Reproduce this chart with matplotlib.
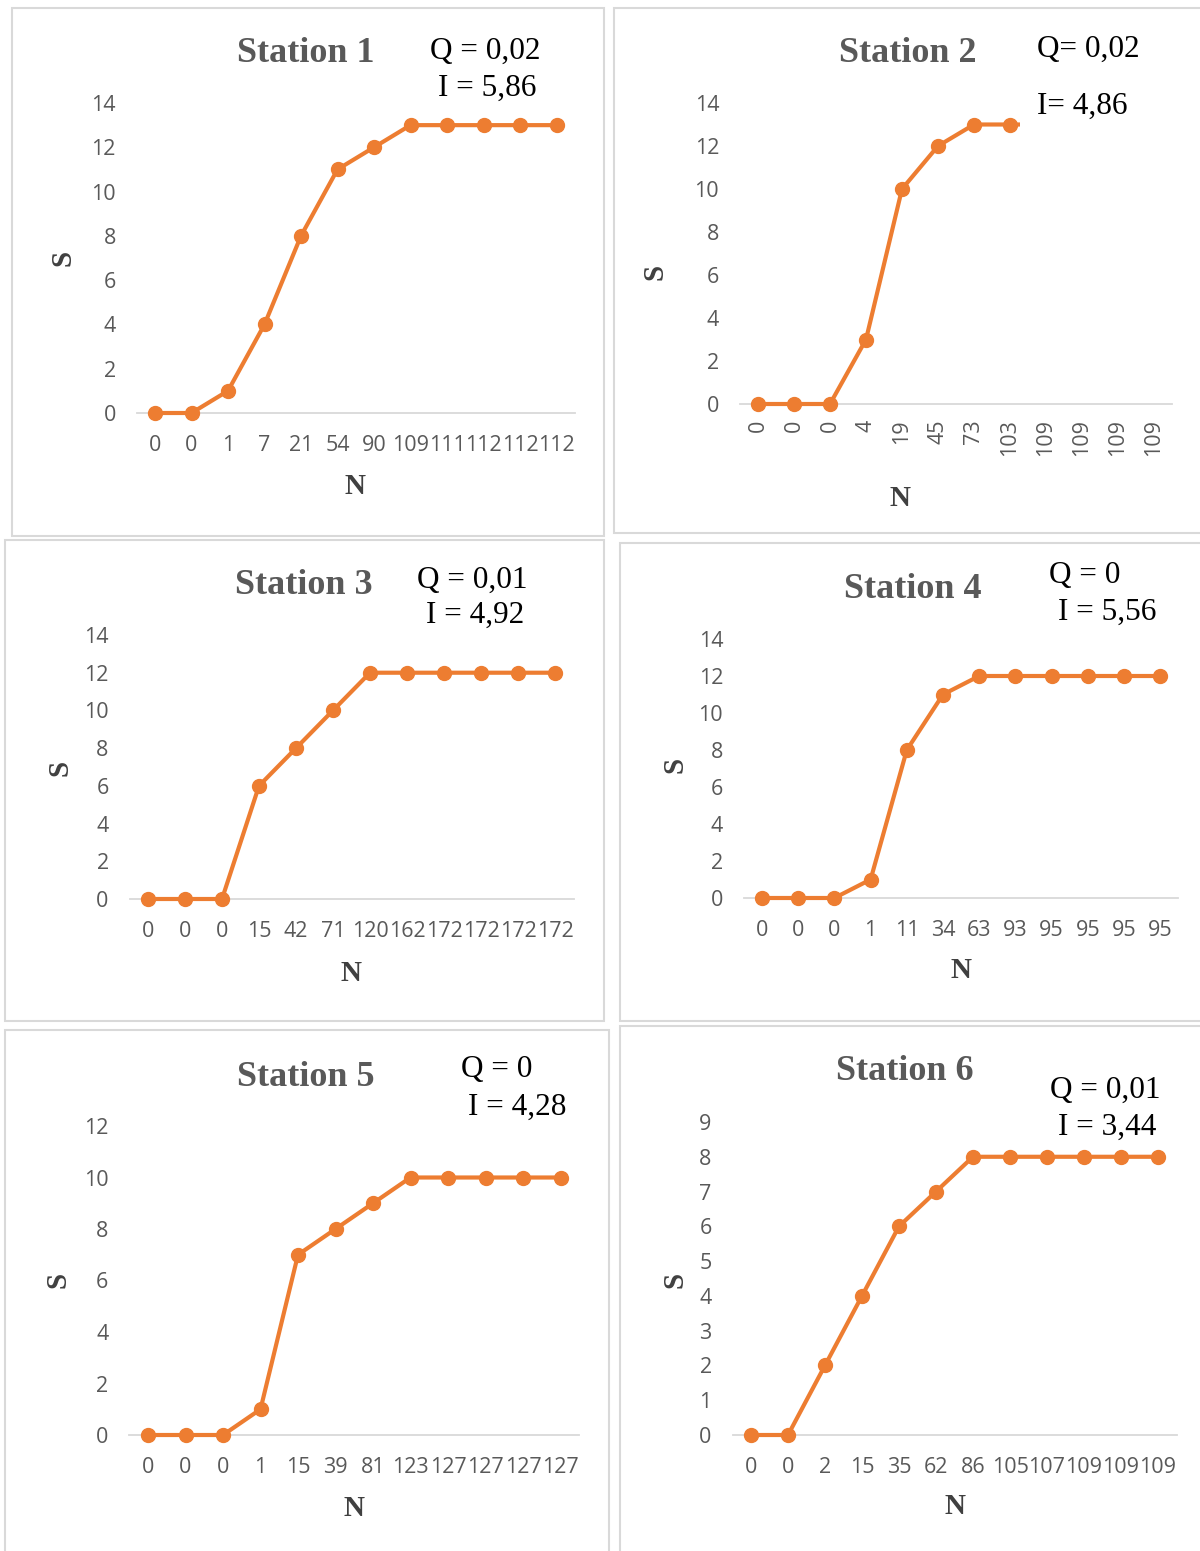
import matplotlib
matplotlib.use("Agg")
import matplotlib.pyplot as plt
from matplotlib.patches import Rectangle
import numpy as np

# ---------------- data ----------------
titles = ["Station 1", "Station 2", "Station 3", "Station 4", "Station 5", "Station 6"]
q_texts = ["Q = 0,02", "Q= 0,02", "Q = 0,01", "Q = 0", "Q = 0", "Q = 0,01"]
i_texts = ["I = 5,86", "I= 4,86", "I = 4,92", "I = 5,56", "I = 4,28", "I = 3,44"]

n_st1 = ["0", "0", "1", "7", "21", "54", "90", "109", "111", "112", "112", "112"]
s_st1 = [0, 0, 1, 4, 8, 11, 12, 13, 13, 13, 13, 13]

n_st2 = ["0", "0", "0", "4", "19", "45", "73", "103", "109", "109", "109", "109"]
s_st2 = [0, 0, 0, 3, 10, 12, 13, 13, 13, 13, 13, 13]

n_st3 = ["0", "0", "0", "15", "42", "71", "120", "162", "172", "172", "172", "172"]
s_st3 = [0, 0, 0, 6, 8, 10, 12, 12, 12, 12, 12, 12]

n_st4 = ["0", "0", "0", "1", "11", "34", "63", "93", "95", "95", "95", "95"]
s_st4 = [0, 0, 0, 1, 8, 11, 12, 12, 12, 12, 12, 12]

n_st5 = ["0", "0", "0", "1", "15", "39", "81", "123", "127", "127", "127", "127"]
s_st5 = [0, 0, 0, 1, 7, 8, 9, 10, 10, 10, 10, 10]

n_st6 = ["0", "0", "2", "15", "35", "62", "86", "105", "107", "109", "109", "109"]
s_st6 = [0, 0, 2, 4, 6, 7, 8, 8, 8, 8, 8, 8]

n_labels = [n_st1, n_st2, n_st3, n_st4, n_st5, n_st6]
s_values = [s_st1, s_st2, s_st3, s_st4, s_st5, s_st6]
y_max = [14, 14, 14, 14, 12, 9]
y_step = [2, 2, 2, 2, 2, 1]

# ---------------- layout ----------------
W, H = 1200, 1551
fig = plt.figure(figsize=(W / 100, H / 100), dpi=100)

ORANGE = "#ED7D31"
GRAY = "#595959"
AXIS = "#D9D9D9"
TICKFONT = ["Open Sans", "DejaVu Sans"]
SERIF = ["Liberation Serif", "DejaVu Serif"]


def fx(x):
    return x / W


def fy(y):
    return 1 - y / H


layout = [
    dict(border=(12, 8, 604, 536), x0=155, dx=36.5, y0=413, ytop=103, rot=0,
         title=(306, 53), q=(485, 51), i=(487, 88), n=(355, 487), s=(63, 258)),
    dict(border=(614, 8, 1210, 533), x0=758, dx=36.0, y0=404, ytop=103, rot=90,
         title=(908, 53), q=(1088, 49), i=(1082, 106), n=(900, 499), s=(655, 272)),
    dict(border=(5, 540, 604, 1021), x0=148, dx=37.0, y0=899, ytop=635, rot=0,
         title=(304, 585), q=(472, 580), i=(475, 615), n=(351, 973), s=(60, 768)),
    dict(border=(620, 543, 1210, 1021), x0=762, dx=36.2, y0=898, ytop=639, rot=0,
         title=(913, 589), q=(1085, 575), i=(1107, 612), n=(961, 971), s=(675, 765)),
    dict(border=(5, 1030, 609, 1560), x0=148, dx=37.5, y0=1435, ytop=1126, rot=0,
         title=(306, 1077), q=(497, 1070), i=(517, 1107), n=(354, 1508), s=(58, 1280)),
    dict(border=(620, 1026, 1210, 1560), x0=751, dx=37.0, y0=1435, ytop=1122, rot=0,
         title=(905, 1071), q=(1105, 1090), i=(1107, 1127), n=(955, 1507), s=(675, 1280)),
]

for k, L in enumerate(layout):
    bx0, by0, bx1, by1 = L["border"]
    fig.add_artist(Rectangle((fx(bx0), fy(by1)), (bx1 - bx0) / W, (by1 - by0) / H,
                             transform=fig.transFigure, facecolor="white",
                             edgecolor=AXIS, linewidth=1.5, zorder=-1))

    left = L["x0"] - L["dx"] / 2
    width = 12 * L["dx"]
    ax = fig.add_axes([fx(left), fy(L["y0"]), width / W, (L["y0"] - L["ytop"]) / H])
    ax.set_facecolor("none")
    x = np.arange(len(s_values[k]))
    ax.plot(x, s_values[k], color=ORANGE, linewidth=3.0, marker="o",
            markersize=10, clip_on=False, zorder=3)
    ax.set_xlim(-0.5, 11.5)
    ax.set_ylim(0, y_max[k])
    ax.set_yticks(np.arange(0, y_max[k] + 0.01, y_step[k]))
    ax.set_xticks(x)
    ax.set_xticklabels(n_labels[k], rotation=L["rot"])
    for sp in ["top", "right", "left"]:
        ax.spines[sp].set_visible(False)
    ax.spines["bottom"].set_color(AXIS)
    ax.spines["bottom"].set_linewidth(1.3)
    ax.tick_params(axis="both", length=0, labelcolor=GRAY)
    ax.tick_params(axis="y", pad=15)
    ax.tick_params(axis="x", pad=16 if L["rot"] == 0 else 11)
    for lab in ax.get_xticklabels() + ax.get_yticklabels():
        lab.set_family(TICKFONT)
        lab.set_fontsize(15.5)

    fig.text(fx(L["title"][0]), fy(L["title"][1]), titles[k], ha="center", va="center",
             family=SERIF, fontweight="bold", fontsize=26, color=GRAY)
    fig.text(fx(L["n"][0]), fy(L["n"][1]), "N", ha="center", va="center",
             family=SERIF, fontweight="bold", fontsize=21, color="#404040")
    fig.text(fx(L["s"][0]), fy(L["s"][1]), "S", ha="center", va="center", rotation=90,
             family=SERIF, fontweight="bold", fontsize=21, color="#404040")

    if k == 1:
        # white text box of the "I" annotation covers the end of the line
        fig.add_artist(Rectangle((fx(1020), fy(140)), 175 / W, 55 / H,
                                 transform=fig.transFigure, facecolor="white",
                                 edgecolor="none", zorder=5))
    fig.text(fx(L["q"][0]), fy(L["q"][1]), q_texts[k], ha="center", va="center",
             family=SERIF, fontsize=22.5, color="black", zorder=6)
    fig.text(fx(L["i"][0]), fy(L["i"][1]), i_texts[k], ha="center", va="center",
             family=SERIF, fontsize=22.5, color="black", zorder=6)

fig.savefig("out.png", dpi=100, facecolor="white")
